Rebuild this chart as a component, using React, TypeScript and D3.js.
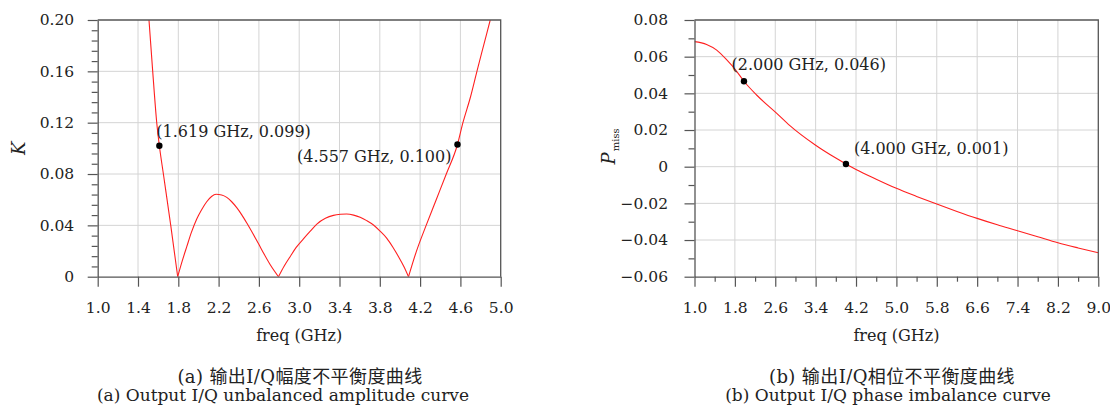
import React, { useEffect, useRef } from 'react';
import * as d3 from 'd3';

// (a) amplitude imbalance K vs freq
const freqA = [1.509, 1.546, 1.586, 1.612, 1.652, 1.725, 1.794, 1.84, 1.884, 1.93, 1.983, 2.03, 2.082, 2.13, 2.175, 2.23, 2.281, 2.33, 2.38, 2.43, 2.48, 2.54, 2.595, 2.65, 2.711, 2.794, 2.85, 2.91, 2.97, 3.042, 3.11, 3.175, 3.26, 3.34, 3.41, 3.47, 3.54, 3.605, 3.67, 3.737, 3.8, 3.87, 3.93, 3.986, 4.04, 4.085, 4.16, 4.26, 4.36, 4.46, 4.571, 4.625, 4.7, 4.764, 4.83, 4.896];
const kValues = [0.2, 0.16, 0.12, 0.102, 0.08, 0.04, 0, 0.0125, 0.0234, 0.0345, 0.045, 0.052, 0.0584, 0.0625, 0.0642, 0.0637, 0.0618, 0.0584, 0.0538, 0.0482, 0.0418, 0.0336, 0.0258, 0.0178, 0.0095, 0, 0.0082, 0.0156, 0.0228, 0.0295, 0.0355, 0.041, 0.0455, 0.0478, 0.0486, 0.0488, 0.048, 0.0463, 0.0437, 0.0403, 0.0357, 0.0299, 0.023, 0.0156, 0.0078, 0, 0.019, 0.04, 0.06, 0.08, 0.103, 0.12, 0.14, 0.16, 0.18, 0.2];
const markFreqA = [1.612, 4.571];
const markValA = [0.102, 0.103];
const markTextA = ['(1.619 GHz, 0.099)', '(4.557 GHz, 0.100)'];

// (b) phase imbalance P_miss vs freq
const freqB = [1.0, 1.24, 1.44, 1.64, 1.816, 1.98, 2.23, 2.63, 2.89, 3.4, 3.8, 4.0, 4.2, 4.6, 5.0, 5.4, 5.8, 6.2, 6.6, 7.0, 7.4, 7.8, 8.2, 8.6, 9.0];
const pValues = [0.0682, 0.0667, 0.0636, 0.0582, 0.0527, 0.0466, 0.0391, 0.0291, 0.0224, 0.0117, 0.0047, 0.0015, -0.0015, -0.0068, -0.0118, -0.0162, -0.0204, -0.0244, -0.0282, -0.0317, -0.0349, -0.0382, -0.0415, -0.0443, -0.0469];
const markFreqB = [1.98, 4.0];
const markValB = [0.0466, 0.0015];
const markTextB = ['(2.000 GHz, 0.046)', '(4.000 GHz, 0.001)'];

const xTicksA = [1.0, 1.4, 1.8, 2.2, 2.6, 3.0, 3.4, 3.8, 4.2, 4.6, 5.0];
const yTicksA = [0, 0.04, 0.08, 0.12, 0.16, 0.2];
const xTicksB = [1.0, 1.8, 2.6, 3.4, 4.2, 5.0, 5.8, 6.6, 7.4, 8.2, 9.0];
const yTicksB = [-0.06, -0.04, -0.02, 0, 0.02, 0.04, 0.06, 0.08];

const captionsA = ['(a) 输出I/Q幅度不平衡度曲线', '(a) Output I/Q unbalanced amplitude curve'];
const captionsB = ['(b) 输出I/Q相位不平衡度曲线', '(b) Output I/Q phase imbalance curve'];

const SERIF = '"DejaVu Serif", serif';
const CAPFONT = '"DejaVu Serif", "Noto Sans CJK SC", serif';
const TOP = 20;
const BOTTOM = 276.7;

function drawPanel(svg, cfg) {
  const x = d3.scaleLinear().domain(cfg.xDomain).range([cfg.left, cfg.right]);
  const y = d3.scaleLinear().domain(cfg.yDomain).range([BOTTOM, TOP]);
  const g = svg.append('g');

  // grid
  g.selectAll('.vg').data(cfg.xTicks.slice(1, -1)).enter().append('line')
    .attr('x1', d => x(d)).attr('x2', d => x(d))
    .attr('y1', TOP).attr('y2', BOTTOM)
    .attr('stroke', '#d4d4d4').attr('stroke-width', 1);
  g.selectAll('.hg').data(cfg.yTicks.slice(1, -1)).enter().append('line')
    .attr('x1', cfg.left).attr('x2', cfg.right)
    .attr('y1', d => y(d)).attr('y2', d => y(d))
    .attr('stroke', '#d4d4d4').attr('stroke-width', 1);

  // curve, split at the zero points so the V bottoms stay sharp
  const clipId = 'clip-' + cfg.id;
  svg.append('clipPath').attr('id', clipId).append('rect')
    .attr('x', cfg.left).attr('y', TOP)
    .attr('width', cfg.right - cfg.left).attr('height', BOTTOM - TOP);
  const pts = cfg.vals.map((v, i) => [cfg.freq[i], v]);
  const segs = [];
  let cur = [];
  pts.forEach((p, i) => {
    cur.push(p);
    if (cfg.splitZero && p[1] === 0 && i > 0 && i < pts.length - 1) {
      segs.push(cur);
      cur = [p];
    }
  });
  segs.push(cur);
  const line = d3.line()
    .x(d => x(d[0]))
    .y(d => y(d[1]))
    .curve(d3.curveMonotoneX);
  g.selectAll('.seg').data(segs).enter().append('path')
    .attr('clip-path', `url(#${clipId})`)
    .attr('d', line)
    .attr('fill', 'none')
    .attr('stroke', '#ff2020')
    .attr('stroke-width', 1.1);

  // frame top/right
  g.append('path')
    .attr('d', `M${cfg.left},${TOP}H${cfg.right}V${BOTTOM}`)
    .attr('fill', 'none').attr('stroke', '#555').attr('stroke-width', 1.3);

  // axes
  const fmtY = d => (d === 0 ? '0' : d3.format('.2f')(d));
  const xAxis = d3.axisBottom(x).tickValues(cfg.xTicks).tickSize(10).tickSizeOuter(0)
    .tickPadding(15).tickFormat(d3.format('.1f'));
  const yAxis = d3.axisLeft(y).tickValues(cfg.yTicks).tickSize(10).tickSizeOuter(0)
    .tickPadding(cfg.yPad).tickFormat(fmtY);

  const gx = g.append('g').attr('transform', `translate(0,${BOTTOM})`).call(xAxis);
  const gy = g.append('g').attr('transform', `translate(${cfg.left},0)`).call(yAxis);

  if (cfg.xMinor.length) {
    g.append('g').attr('transform', `translate(0,${BOTTOM})`)
      .call(d3.axisBottom(x).tickValues(cfg.xMinor).tickSize(5).tickSizeOuter(0).tickFormat(() => ''))
      .call(a => a.select('.domain').remove());
  }
  g.append('g').attr('transform', `translate(${cfg.left},0)`)
    .call(d3.axisLeft(y).tickValues(cfg.yMinor).tickSize(6).tickSizeOuter(0).tickFormat(() => ''))
    .call(a => a.select('.domain').remove());

  g.selectAll('.domain').attr('stroke', '#555').attr('stroke-width', 1.3);
  g.selectAll('.tick line').attr('stroke', '#555').attr('stroke-width', 1.2);
  [gx, gy].forEach(a => a.attr('font-family', SERIF).attr('font-size', 15.5));
  g.selectAll('.tick text').attr('fill', '#222');

  // markers
  g.selectAll('.mk').data(cfg.markVals).enter().append('circle')
    .attr('cx', (d, i) => x(cfg.markFreq[i]))
    .attr('cy', d => y(d))
    .attr('r', 3.2)
    .attr('fill', '#000');
  g.selectAll('.ml').data(cfg.markText).enter().append('text')
    .attr('x', (d, i) => x(cfg.markFreq[i]) + cfg.labelOff[i][0])
    .attr('y', (d, i) => y(cfg.markVals[i]) + cfg.labelOff[i][1])
    .attr('text-anchor', (d, i) => cfg.labelOff[i][2])
    .attr('font-family', SERIF).attr('font-size', 16).attr('fill', '#222')
    .text(d => d);

  // axis title
  const cx = (cfg.left + cfg.right) / 2;
  g.append('text').attr('x', cx).attr('y', 341)
    .attr('text-anchor', 'middle').attr('font-family', SERIF).attr('font-size', 16).attr('fill', '#222')
    .text('freq (GHz)');

  // y label
  const yl = g.append('text')
    .attr('transform', `translate(${cfg.yLabelX},${(TOP + BOTTOM) / 2 + cfg.yLabelDy}) rotate(-90)`)
    .attr('text-anchor', 'middle').attr('font-family', SERIF).attr('fill', '#222');
  yl.append('tspan').attr('font-style', 'italic').attr('font-size', 18).text(cfg.yLabel);
  if (cfg.ySub) {
    yl.append('tspan').attr('font-size', 10).attr('dy', 4).attr('dx', 1).text(cfg.ySub);
  }

  // captions
  g.append('text')
    .attr('x', cfg.capX[0]).attr('y', 383)
    .attr('text-anchor', 'middle').attr('font-family', CAPFONT).attr('font-size', 18)
    .attr('letter-spacing', 0.4).attr('fill', '#222')
    .text(cfg.captions[0]);
  g.append('text')
    .attr('x', cfg.capX[1]).attr('y', 401)
    .attr('text-anchor', 'middle').attr('font-family', SERIF).attr('font-size', 17).attr('fill', '#222')
    .text(cfg.captions[1]);
}

export default function App() {
  const ref = useRef(null);

  useEffect(() => {
    const svg = d3.select(ref.current);
    svg.selectAll('*').remove();

    drawPanel(svg, {
      id: 'a', left: 97.7, right: 500.7,
      xDomain: [1.0, 5.0], yDomain: [0, 0.2],
      xTicks: xTicksA, yTicks: yTicksA,
      xMinor: [],
      yMinor: d3.range(0, 0.2001, 0.008).filter(v => Math.abs(v / 0.04 - Math.round(v / 0.04)) > 1e-6),
      freq: freqA, vals: kValues, splitZero: true,
      markFreq: markFreqA, markVals: markValA, markText: markTextA,
      labelOff: [[-3, -9, 'start'], [-6, 18, 'end']],
      yPad: 13.5, yLabel: 'K', ySub: '', yLabelX: 25, yLabelDy: 0,
      captions: captionsA, capX: [300, 283],
    });

    drawPanel(svg, {
      id: 'b', left: 694.5, right: 1098.3,
      xDomain: [1.0, 9.0], yDomain: [-0.06, 0.08],
      xTicks: xTicksB, yTicks: yTicksB,
      xMinor: d3.range(1.4, 9.0, 0.8),
      yMinor: d3.range(-0.05, 0.08, 0.02),
      freq: freqB, vals: pValues, splitZero: false,
      markFreq: markFreqB, markVals: markValB, markText: markTextB,
      labelOff: [[-12.5, -11, 'start'], [8, -10, 'start']],
      yPad: 16.5, yLabel: 'P', ySub: 'miss', yLabelX: 615, yLabelDy: -2,
      captions: captionsB, capX: [892, 888],
    });
  }, []);

  return (
    <svg ref={ref} width={1110} height={410}
      style={{ position: 'absolute', left: 0, top: 0, background: '#fff' }} />
  );
}
